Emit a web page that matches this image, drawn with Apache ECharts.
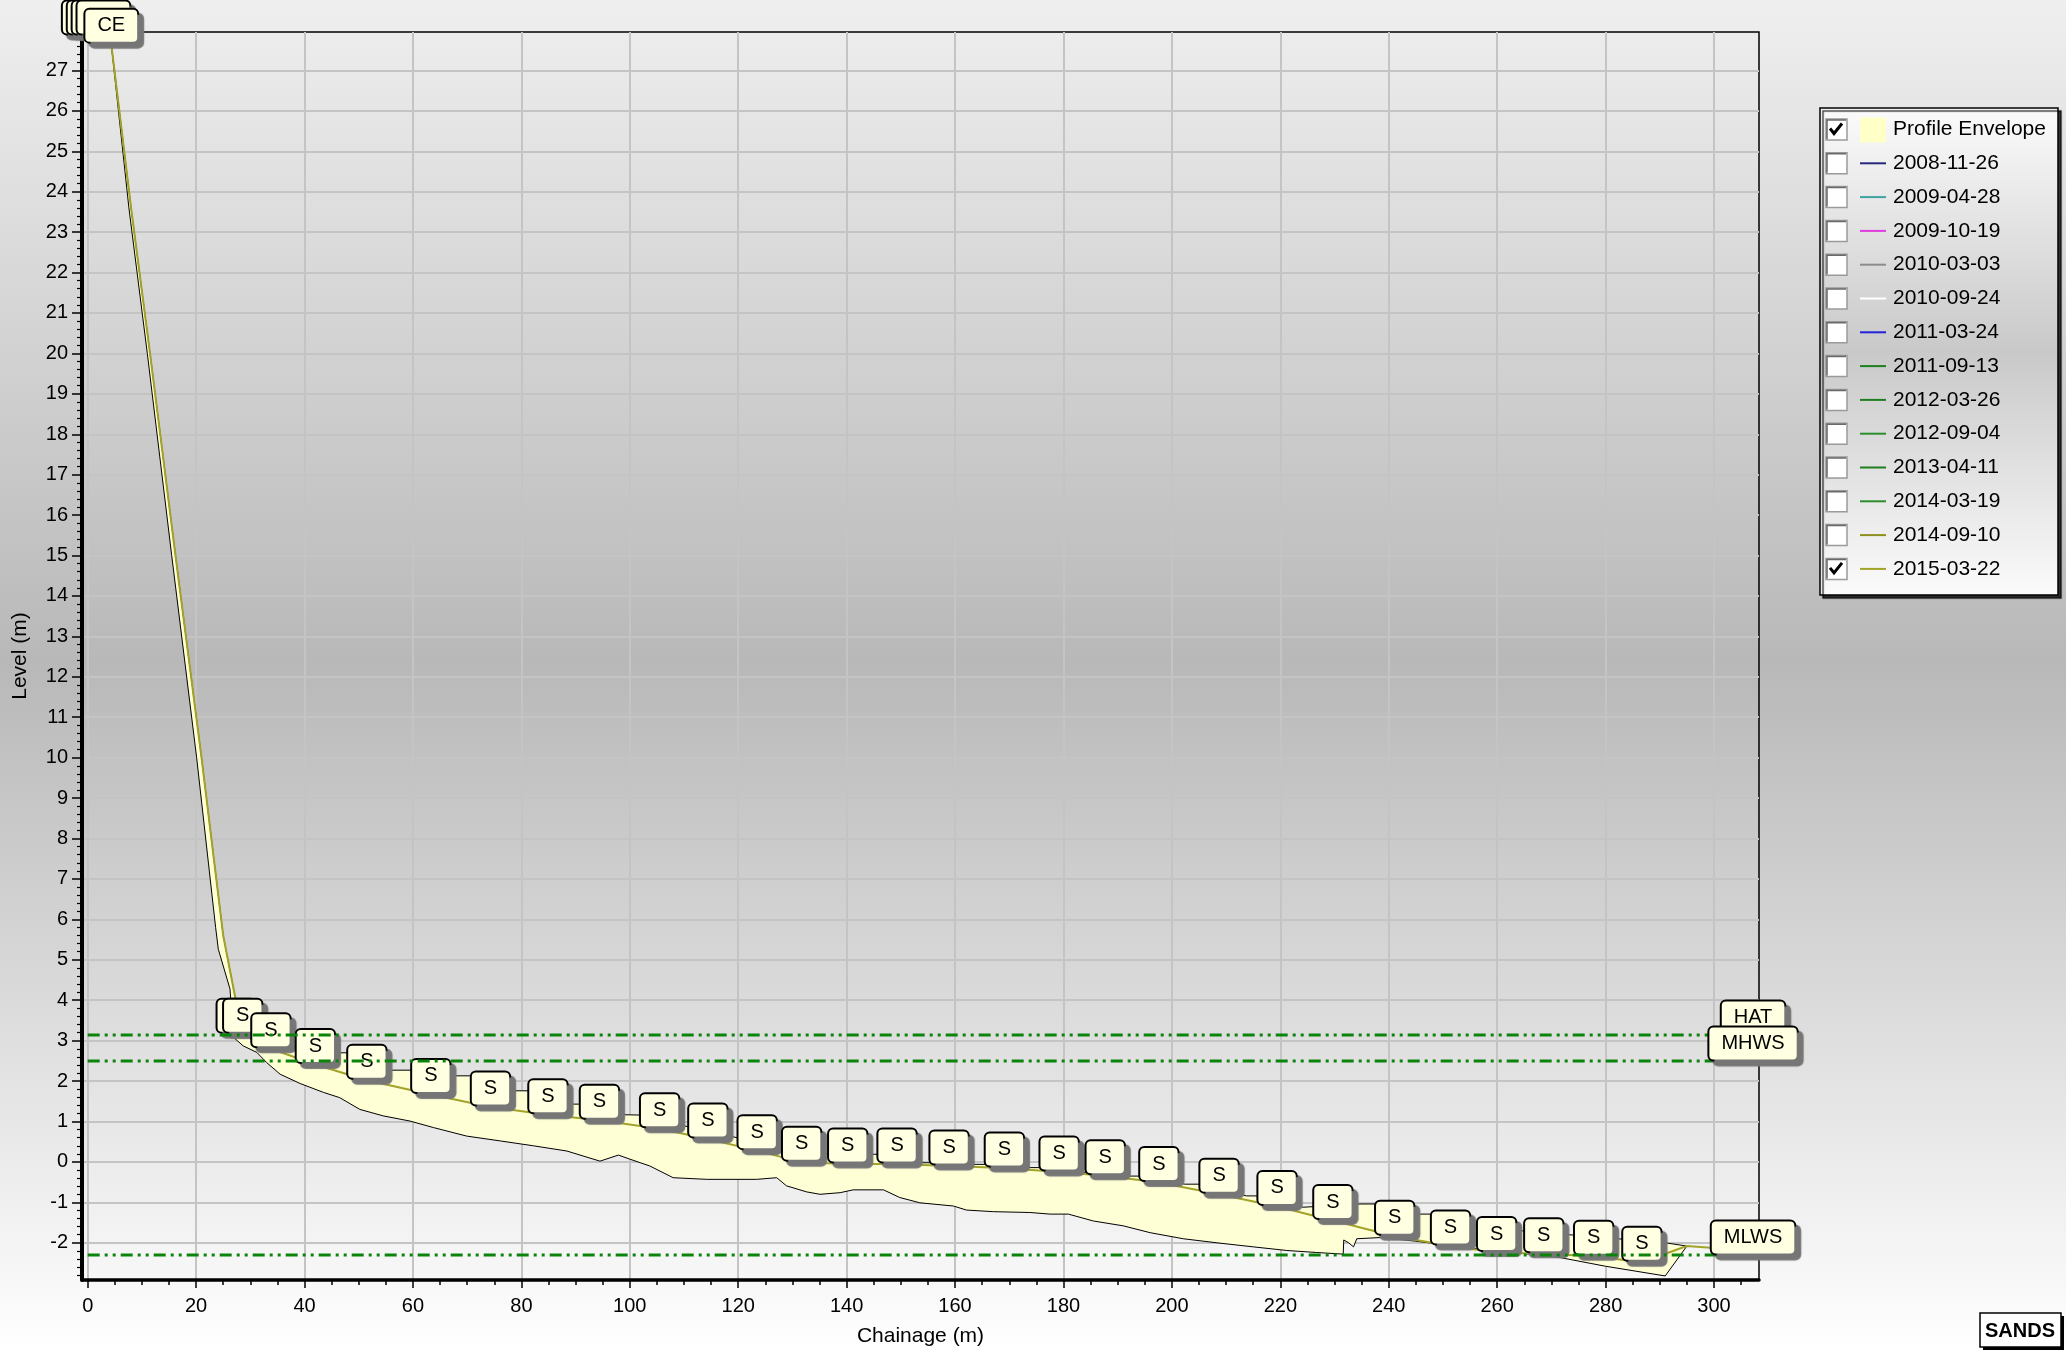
<!DOCTYPE html>
<html><head><meta charset="utf-8">
<script src="https://cdn.jsdelivr.net/npm/echarts@6/dist/echarts.min.js"></script>
<style>html,body{margin:0;padding:0;width:2066px;height:1352px;overflow:hidden}#c{width:2066px;height:1352px}</style>
</head><body><div id="c"></div>
<script>
// ---------------- data ----------------
const xTickLabels = [0,20,40,60,80,100,120,140,160,180,200,220,240,260,280,300];
const yTickLabels = [-2,-1,0,1,2,3,4,5,6,7,8,9,10,11,12,13,14,15,16,17,18,19,20,21,22,23,24,25,26,27];

const tideNames  = ['HAT','MHWS','MLWS'];
const tideLevels = [3.14, 2.50, -2.30];

const legendNames   = ['Profile Envelope','2008-11-26','2009-04-28','2009-10-19','2010-03-03','2010-09-24','2011-03-24','2011-09-13','2012-03-26','2012-09-04','2013-04-11','2014-03-19','2014-09-10','2015-03-22'];
const legendColors  = ['#ffffc8','#28287a','#3fa3a3','#e03ce0','#8c8c8c','#ffffff','#2222d8','#1f7f1f','#1f7f1f','#2a8f2a','#1f7f1f','#2a8f2a','#8f8f1f','#a3a32a'];
const legendChecked = [true,false,false,false,false,false,false,false,false,false,false,false,false,true];

// 2015-03-22 profile (chainage, level, feature code)
const p2015X = [4.35,8.0,11.5,16.2,21.0,25.0,27.2,28.6,33.8,42.0,51.5,63.3,74.3,84.9,94.4,105.5,114.4,123.5,131.7,140.2,149.3,158.9,169.1,179.2,187.7,197.6,208.7,219.4,229.7,241.1,251.4,259.9,268.6,277.8,286.7,295.0,300.0];
const p2015Y = [27.65,23.6,20.0,15.0,10.0,5.6,4.08,3.16,2.80,2.41,2.02,1.67,1.36,1.17,1.03,0.82,0.57,0.28,-0.01,-0.05,-0.05,-0.10,-0.15,-0.25,-0.34,-0.51,-0.80,-1.10,-1.45,-1.84,-2.08,-2.24,-2.27,-2.33,-2.48,-2.08,-2.13];
const p2015Code = ['CE','','','','','','','S','S','S','S','S','S','S','S','S','S','S','S','S','S','S','S','S','S','S','S','S','S','S','S','S','S','S','S','',''];

// feature marks of other surveys that show behind
const otherMarkX = [0.2,1.1,2.0,2.9,27.4];
const otherMarkY = [27.85,27.85,27.85,27.85,3.16];
const otherMarkCode = ['CE','CE','CE','CE','S'];

// profile envelope: upper edge
const envTopX = [4.35,8.0,11.5,16.2,21.0,25.0,27.2,28.6,33.8,42.0,46.6,48.0,51.5,55.2,59.8,63.3,67.1,70.8,74.3,77.9,81.3,84.9,88.5,90.8,94.4,98.1,101.9,105.5,114.4,123.5,131.7,140.2,145.7,149.3,152.9,155.2,158.9,162.6,165.5,169.1,172.8,175.6,179.2,187.7,191.4,194.0,197.6,202.4,205.0,208.7,213.8,215.8,219.4,224.2,229.7,234.7,237.5,241.1,245.0,248.0,251.4,259.9,268.6,277.8,286.7,291.5,295.0];
const envTopY = [27.65,23.6,20.0,15.0,10.0,5.6,4.08,3.5,3.1,2.82,2.70,2.70,2.50,2.27,2.27,2.20,2.13,2.13,1.95,1.76,1.76,1.60,1.43,1.43,1.30,1.17,1.16,1.02,0.77,0.48,0.22,0.19,0.19,0.10,-0.02,-0.02,-0.04,-0.06,-0.06,-0.10,-0.14,-0.14,-0.20,-0.30,-0.35,-0.35,-0.45,-0.55,-0.55,-0.70,-0.84,-0.84,-1.00,-1.12,-1.08,-1.04,-1.04,-1.15,-1.29,-1.29,-1.45,-1.65,-1.75,-1.85,-1.95,-2.01,-2.08];
// profile envelope: lower edge
const envBotX = [4.35,7.6,11.0,15.5,20.1,23.6,24.1,26.25,26.9,28.7,31.2,33.0,35.5,39.2,43.5,46.5,50.2,54.5,59.5,63.8,69.9,76.1,82.2,88.4,94.5,97.9,100.0,103.7,108.0,114.2,123.4,127.1,128.9,132.6,135.1,138.8,141.2,146.8,149.8,153.5,159.7,162.1,167.1,173.8,177.5,180.9,185.5,191.0,196.0,202.1,208.3,215.0,221.2,226.7,231.6,231.7,232.6,233.5,234.1,238.4,245.0,255.0,262.0,271.8,280.0,291.0,295.0];
const envBotY = [27.65,23.6,20.0,15.0,10.0,5.8,5.26,4.28,3.08,2.87,2.71,2.46,2.17,1.94,1.72,1.59,1.30,1.14,1.01,0.85,0.64,0.52,0.40,0.27,0.02,0.17,0.07,-0.10,-0.39,-0.43,-0.43,-0.39,-0.59,-0.74,-0.80,-0.76,-0.69,-0.69,-0.88,-1.01,-1.09,-1.19,-1.23,-1.25,-1.29,-1.29,-1.46,-1.58,-1.75,-1.90,-2.00,-2.10,-2.19,-2.24,-2.28,-1.93,-2.00,-2.10,-1.90,-1.87,-1.96,-2.13,-2.22,-2.37,-2.58,-2.82,-2.08];

// ---------------- layout / style ----------------
const FONT = 'Liberation Sans, Arial, sans-serif';
const X_MIN = -1.05, X_MAX = 308.3, Y_MIN = -2.92, Y_MAX = 27.95;
const TIDE_LABEL_X = 307.2;

const xMinor = [];
for (let v = 5; v <= 305; v += 5) if (v % 20 !== 0) xMinor.push(v);
const yMinor = [];
for (let k = -14; k <= 139; k++) { if (k % 5 !== 0) yMinor.push(Math.round(k * 2) / 10); }

const markLabel = {
  show: true, position: 'top', distance: 2,
  formatter: p => p.data[2],
  color: '#000', fontSize: 20, lineHeight: 20, fontFamily: FONT,
  backgroundColor: '#ffffe1', borderColor: '#000', borderWidth: 2, borderRadius: 4,
  padding: [6, 12, 6, 12],
  shadowColor: '#767676', shadowBlur: 1, shadowOffsetX: 5, shadowOffsetY: 5
};
const hiddenItem = { color: 'rgba(0,0,0,0)', opacity: 1 };

const series = [];
series.push({
  type: 'custom', name: 'Profile Envelope', silent: true, z: 2,
  data: [[envTopX[0], envTopY[0]]],
  renderItem: function (params, api) {
    const pts = [];
    for (let i = 0; i < envTopX.length; i++) pts.push(api.coord([envTopX[i], envTopY[i]]));
    for (let i = envBotX.length - 1; i >= 0; i--) pts.push(api.coord([envBotX[i], envBotY[i]]));
    return { type: 'polygon', shape: { points: pts }, style: { fill: '#ffffd6', stroke: null } };
  }
});
series.push({ type: 'line', name: 'envTop', silent: true, z: 3, symbol: 'none', animation: false,
  data: envTopX.map((x, i) => [x, envTopY[i]]), lineStyle: { color: '#000', width: 1 } });
series.push({ type: 'line', name: 'envBot', silent: true, z: 3, symbol: 'none', animation: false,
  data: envBotX.map((x, i) => [x, envBotY[i]]), lineStyle: { color: '#000', width: 1 } });
series.push({ type: 'line', name: '2015-03-22', silent: true, z: 4, symbol: 'none', animation: false,
  data: p2015X.map((x, i) => [x, p2015Y[i]]), lineStyle: { color: '#a3a32a', width: 2 } });
series.push({ type: 'scatter', name: 'otherMarks', silent: true, z: 5, symbolSize: 1, animation: false,
  itemStyle: hiddenItem,
  data: otherMarkX.map((x, i) => [x, otherMarkY[i], otherMarkCode[i]]), label: markLabel });
series.push({ type: 'scatter', name: 'marks2015', silent: true, z: 6, symbolSize: 1, animation: false,
  itemStyle: hiddenItem,
  data: p2015X.map((x, i) => [x, p2015Y[i], p2015Code[i]]).filter(d => d[2] !== ''), label: markLabel });
tideLevels.forEach((lvl, i) => {
  series.push({ type: 'line', name: tideNames[i], silent: true, z: 7, symbol: 'none', animation: false,
    data: [[0, lvl], [TIDE_LABEL_X, lvl]],
    lineStyle: { color: '#0b840b', width: 3, type: [12, 5, 3, 5, 3, 5] } });
});
series.push({ type: 'scatter', name: 'tideLabels', silent: true, z: 8, symbolSize: 1, animation: false,
  itemStyle: hiddenItem,
  data: tideLevels.map((l, i) => [TIDE_LABEL_X, l, tideNames[i]]),
  label: Object.assign({}, markLabel, { distance: 1 }) });

// ---------------- legend (drawn) ----------------
const LG = { x: 1820, y: 108, w: 238, h: 487, row0: 129.5, rowH: 33.8 };
const g = [];
g.push({ type: 'rect', shape: { x: LG.x, y: LG.y, width: LG.w, height: LG.h }, z: 10,
  style: { fill: { type: 'linear', x: 0, y: 0, x2: 0, y2: 1, colorStops: [
    { offset: 0, color: '#fbfbfb' }, { offset: 0.5, color: '#c9c9c9' }, { offset: 1, color: '#fbfbfb' }] },
    stroke: '#000', lineWidth: 1.5, shadowColor: 'rgba(0,0,0,0.75)', shadowOffsetX: 3, shadowOffsetY: 3, shadowBlur: 1 } });
legendNames.forEach((name, i) => {
  const cy = LG.row0 + i * LG.rowH;
  const bx = 1826, bs = 21;
  g.push({ type: 'rect', z: 11, shape: { x: bx, y: cy - bs / 2, width: bs, height: bs }, style: { fill: '#fff', stroke: '#9a9a9a', lineWidth: 1.5 } });
  g.push({ type: 'polyline', z: 11, shape: { points: [[bx + 1, cy + bs / 2 - 1], [bx + 1, cy - bs / 2 + 1], [bx + bs - 1, cy - bs / 2 + 1]] }, style: { stroke: '#6a6a6a', lineWidth: 1.5, fill: null } });
  if (legendChecked[i]) {
    g.push({ type: 'polyline', z: 12, shape: { points: [[bx + 4, cy - 1], [bx + 8, cy + 4], [bx + 16, cy - 6]] }, style: { stroke: '#000', lineWidth: 3, fill: null } });
  }
  if (i === 0) {
    g.push({ type: 'rect', z: 11, shape: { x: 1860, y: cy - 12, width: 26, height: 25 }, style: { fill: legendColors[i] } });
  } else {
    g.push({ type: 'line', z: 11, shape: { x1: 1860, y1: cy, x2: 1886, y2: cy }, style: { stroke: legendColors[i], lineWidth: 2 } });
  }
  g.push({ type: 'text', z: 11, x: 1893, y: cy, style: { text: name, font: '21px ' + FONT, fill: '#000', verticalAlign: 'middle', align: 'left' } });
});
// SANDS tag
g.push({ type: 'rect', z: 10, shape: { x: 1983, y: 1316, width: 81, height: 34 }, style: { fill: '#000' } });
g.push({ type: 'rect', z: 11, shape: { x: 1980, y: 1313, width: 81, height: 34 }, style: { fill: '#fff', stroke: '#000', lineWidth: 1.5 } });
g.push({ type: 'text', z: 12, x: 2020, y: 1331, style: { text: 'SANDS', font: 'bold 20px ' + FONT, fill: '#000', align: 'center', verticalAlign: 'middle' } });

// ---------------- option ----------------
const option = {
  animation: false,
  backgroundColor: { type: 'linear', x: 0, y: 0, x2: 0, y2: 1, colorStops: [
    { offset: 0, color: '#efefef' }, { offset: 0.49, color: '#b8b8b8' }, { offset: 1, color: '#ffffff' }] },
  textStyle: { fontFamily: FONT },
  grid: { left: 82, top: 32, right: 307, bottom: 69, show: true, borderColor: '#000', borderWidth: 1.5, backgroundColor: 'transparent', containLabel: false },
  xAxis: [{
    type: 'value', min: X_MIN, max: X_MAX, position: 'bottom',
    name: 'Chainage (m)', nameLocation: 'middle', nameGap: 46,
    nameTextStyle: { fontSize: 21, color: '#000', fontFamily: FONT },
    axisLine: { show: true, onZero: false, lineStyle: { color: '#000', width: 3.5 } },
    axisTick: { show: true, customValues: xTickLabels, length: 8, lineStyle: { color: '#000', width: 1.5 } },
    axisLabel: { show: true, customValues: xTickLabels, fontSize: 20, color: '#000', margin: 16, fontFamily: FONT },
    splitLine: { show: true, lineStyle: { color: '#c4c4c4', width: 2 } }
  }, {
    type: 'value', min: X_MIN, max: X_MAX, position: 'bottom',
    axisLine: { show: false, onZero: false }, axisLabel: { show: false }, splitLine: { show: false },
    axisTick: { show: true, customValues: xMinor, length: 5, lineStyle: { color: '#000', width: 1.5 } }
  }],
  yAxis: [{
    type: 'value', min: Y_MIN, max: Y_MAX, position: 'left',
    name: 'Level (m)', nameLocation: 'middle', nameGap: 51,
    nameTextStyle: { fontSize: 21, color: '#000', fontFamily: FONT },
    axisLine: { show: true, onZero: false, lineStyle: { color: '#000', width: 4 } },
    axisTick: { show: true, customValues: yTickLabels, length: 10, lineStyle: { color: '#000', width: 1.5 } },
    axisLabel: { show: true, customValues: yTickLabels, fontSize: 20, color: '#000', margin: 14, fontFamily: FONT },
    splitLine: { show: true, lineStyle: { color: '#c4c4c4', width: 2 } }
  }, {
    type: 'value', min: Y_MIN, max: Y_MAX, position: 'left',
    axisLine: { show: false, onZero: false }, axisLabel: { show: false }, splitLine: { show: false },
    axisTick: { show: true, customValues: yMinor, length: 5, lineStyle: { color: '#000', width: 1.2 } }
  }],
  series: series,
  graphic: { elements: g }
};
const chart = echarts.init(document.getElementById('c'), null, { renderer: 'canvas' });
chart.setOption(option);
</script></body></html>
